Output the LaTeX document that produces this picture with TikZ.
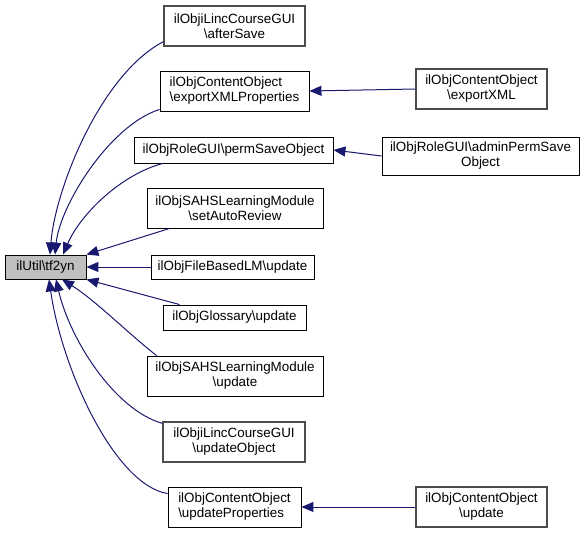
\documentclass[tikz,border=0pt]{standalone}
\usepackage{fontspec}
\setmainfont{Liberation Sans}
\usetikzlibrary{arrows.meta}
\definecolor{edgeblue}{HTML}{191970}
\definecolor{boxgray}{HTML}{BFBFBF}

\begin{document}
\begin{tikzpicture}[x=1pt, y=-1pt,
    every node/.style={rectangle, draw, line width=0.9pt, inner sep=0pt, align=center,
      font=\fontsize{13.4}{15}\selectfont},
    callee/.style={fill=boxgray},
    nolink/.style={draw=black!70, line width=1.3pt},
    calledge/.style={draw=edgeblue, line width=1pt, {Triangle[length=12pt,width=10pt]}-}]
  \useasboundingbox (0,0) rectangle (587,533);

  % the called function
  \node[callee, minimum width=81, minimum height=24] (tf2yn) at (45.5,267) {ilUtil\textbackslash tf2yn};

  % direct callers
  \node[nolink, minimum width=141, minimum height=40] (afterSave) at (234.5,26) {ilObjiLincCourseGUI\\\textbackslash afterSave};
  \node[minimum width=149, minimum height=40, align=left] (exportProps) at (234.5,91) {ilObjContentObject\\\textbackslash exportXMLProperties};
  \node[minimum width=199, minimum height=26] (permSave) at (233.5,150) {ilObjRoleGUI\textbackslash permSaveObject};
  \node[minimum width=176, minimum height=40] (autoReview) at (235,208) {ilObjSAHSLearningModule\\\textbackslash setAutoReview};
  \node[minimum width=163, minimum height=24] (fileLM) at (232.5,267) {ilObjFileBasedLM\textbackslash update};
  \node[minimum width=143, minimum height=25] (glossary) at (234.5,317.5) {ilObjGlossary\textbackslash update};
  \node[minimum width=176, minimum height=40] (sahsUpdate) at (235,376) {ilObjSAHSLearningModule\\\textbackslash update};
  \node[nolink, minimum width=142, minimum height=40] (updateObj) at (234,442) {ilObjiLincCourseGUI\\\textbackslash updateObject};
  \node[minimum width=133, minimum height=40, align=left] (updateProps) at (234.5,507) {ilObjContentObject\\\textbackslash updateProperties};

  % second level callers
  \node[nolink, minimum width=131, minimum height=40] (exportXML) at (481.5,89) {ilObjContentObject\\\textbackslash exportXML};
  \node[minimum width=197, minimum height=38] (adminPerm) at (480.5,156) {ilObjRoleGUI\textbackslash adminPermSave\\Object};
  \node[nolink, minimum width=131, minimum height=40] (coUpdate) at (481.5,507) {ilObjContentObject\\\textbackslash update};

  % edges into ilUtil\tf2yn
  \draw[calledge] ([xshift=4.5]tf2yn.north) .. controls (55,190) and (100,75) .. ([yshift=5]afterSave.south west);
  \draw[calledge] ([xshift=9.5]tf2yn.north) .. controls (60,205) and (110,125) .. ([yshift=2]exportProps.south west);
  \draw[calledge] ([xshift=17.5]tf2yn.north) .. controls (80,215) and (120,175) .. ([xshift=29]permSave.south west);
  \draw[calledge] (tf2yn.north east) -- ([xshift=23]autoReview.south west);
  \draw[calledge] (tf2yn.east) -- (fileLM.west);
  \draw[calledge] (tf2yn.south east) -- ([xshift=17]glossary.north west);
  \draw[calledge] ([xshift=16.5]tf2yn.south) .. controls (95,300) and (130,335) .. ([xshift=10]sahsUpdate.north west);
  \draw[calledge] ([xshift=10.5]tf2yn.south) .. controls (70,340) and (115,410) .. ([yshift=-2]updateObj.north west);
  \draw[calledge] ([xshift=3.5]tf2yn.south) .. controls (62,370) and (115,485) .. ([yshift=-7]updateProps.north west);

  % edges between callers
  \draw[calledge] (exportProps.east) -- (exportXML.west);
  \draw[calledge] (permSave.east) -- (adminPerm.west);
  \draw[calledge] (updateProps.east) -- (coUpdate.west);
\end{tikzpicture}
\end{document}
